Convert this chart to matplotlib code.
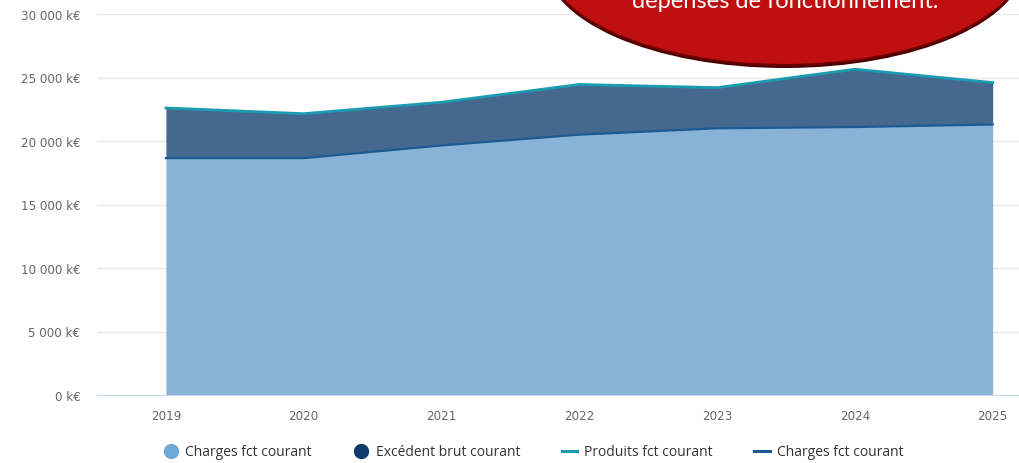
import matplotlib.pyplot as plt
from matplotlib.patches import Ellipse
from matplotlib.lines import Line2D
from matplotlib.ticker import FuncFormatter

years = [2019, 2020, 2021, 2022, 2023, 2024, 2025]
# produits et charges de fonctionnement courant (k€)
produits = [22600, 22150, 23050, 24450, 24200, 25650, 24600]
charges = [18650, 18650, 19650, 20500, 21000, 21100, 21300]
y_ticks = [0, 5000, 10000, 15000, 20000, 25000, 30000]
legend_labels = ["Charges fct courant", "Excédent brut courant",
                 "Produits fct courant", "Charges fct courant"]
bulle_texte = "dépenses de fonctionnement."

plt.rcParams['font.family'] = ['Open Sans', 'DejaVu Sans']

W, H = 1020, 464
fig = plt.figure(figsize=(W / 100, H / 100), dpi=100)
ax = fig.add_axes([97 / W, (H - 396) / H, (W - 97) / W, (396 - 15) / H])

light = '#88b3d7'
dark = '#45688f'
teal = '#1a9bb0'
navy = '#1d5a94'

ax.fill_between(years, 0, charges, color=light, lw=0, zorder=2)
ax.fill_between(years, charges, produits, color=dark, lw=0, zorder=2)
ax.plot(years, produits, color=teal, lw=2, zorder=3)
ax.plot(years, charges, color=navy, lw=1.6, zorder=3)

ax.set_ylim(0, 30000)
ax.set_xlim(2018.5, 2018.5 + (W - 97) / 137.8)
ax.set_yticks(y_ticks)
ax.yaxis.set_major_formatter(FuncFormatter(lambda v, p: f"{int(v):,} k€".replace(',', ' ')))
ax.set_xticks(years)
ax.grid(axis='y', color='#e8e8e8', lw=1, zorder=0)
for s in ['top', 'right', 'left']:
    ax.spines[s].set_visible(False)
ax.spines['bottom'].set_color('#ccd6eb')
ax.tick_params(axis='y', length=0, pad=12, labelsize=8.6, labelcolor='#666666')
ax.tick_params(axis='x', length=0, pad=10, labelsize=8.6, labelcolor='#666666')
for lab in ax.get_xticklabels() + ax.get_yticklabels():
    lab.set_family('DejaVu Sans')

# légende
handles = [
    Line2D([], [], marker='o', ls='none', color='#6fa8d6', markersize=10),
    Line2D([], [], marker='o', ls='none', color='#0f3b6c', markersize=10),
    Line2D([], [], color=teal, lw=2.2),
    Line2D([], [], color=navy, lw=2.2),
]
fig.legend(handles, legend_labels, loc='center', bbox_to_anchor=(533 / W, (H - 453) / H),
           ncol=4, frameon=False, fontsize=10, handlelength=1.1, handletextpad=0.5,
           columnspacing=3.0, labelcolor='#333333')

# bulle rouge en haut à droite
cx, cy = 785 / W, (H + 40) / H
ew, eh = 480 / W, 212 / H
shadow = Ellipse((cx, cy - 3 / H), ew, eh, transform=fig.transFigure,
                 facecolor='#4a0000', edgecolor='none', zorder=5)
bulle = Ellipse((cx, cy), ew, eh, transform=fig.transFigure,
                facecolor='#c00f10', edgecolor='#6b0000', lw=1.5, zorder=6)
fig.add_artist(shadow)
fig.add_artist(bulle)
fig.text(785 / W, (H - 8) / H, bulle_texte, color='white', fontsize=17,
         family=['Lato', 'DejaVu Sans'], ha='center', va='baseline', zorder=7)

fig.savefig('out.png', dpi=100)
